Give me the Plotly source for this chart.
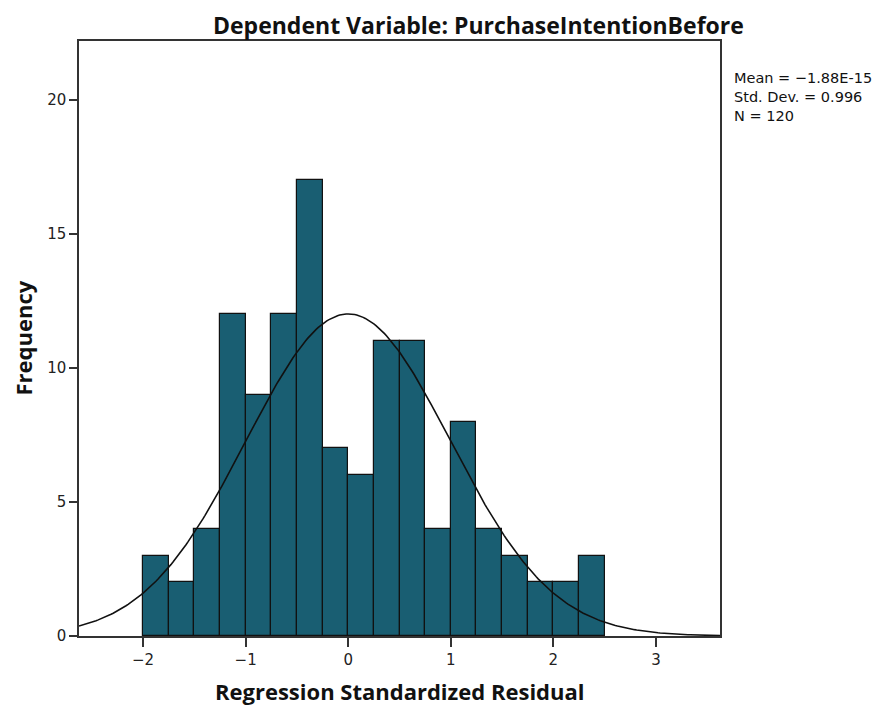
import math
import plotly.graph_objects as go

bin_starts = [-2.0, -1.75, -1.5, -1.25, -1.0, -0.75, -0.5, -0.25, 0.0, 0.25, 0.5, 0.75, 1.0, 1.25, 1.5, 1.75, 2.0, 2.25]
counts = [3, 2, 4, 12, 9, 12, 17, 7, 6, 11, 11, 4, 8, 4, 3, 2, 2, 3]
bin_width = 0.25
mean_val = -1.88e-15
sd_val = 0.996
n_val = 120
x_ticks = [-2, -1, 0, 1, 2, 3]
x_tick_text = ["\u22122", "\u22121", "0", "1", "2", "3"]
y_ticks = [0, 5, 10, 15, 20]
stat_lines = ["Mean = \u22121.88E-15", f"Std. Dev. = {sd_val}", f"N = {n_val}"]

x_min, x_max = -2.625, 3.625
centers = [b + bin_width / 2 for b in bin_starts]

steps = 300
cx = [x_min + (x_max - x_min) * i / steps for i in range(steps + 1)]
cy = [n_val * bin_width / (sd_val * math.sqrt(2 * math.pi)) * math.exp(-0.5 * ((v - mean_val) / sd_val) ** 2) for v in cx]

fig = go.Figure()
fig.add_trace(go.Bar(x=centers, y=counts, width=bin_width,
                     marker=dict(color="#195e72", line=dict(color="#111111", width=1.2)),
                     showlegend=False, hoverinfo="x+y"))
fig.add_trace(go.Scatter(x=cx, y=cy, mode="lines", line=dict(color="#111111", width=1.6),
                         showlegend=False, hoverinfo="skip"))

tick_font = "DejaVu Sans, sans-serif"
title_font = "'Open Sans', Lato, sans-serif"
fig.update_layout(
    width=879, height=701,
    margin=dict(l=71, r=167, t=33, b=73),
    paper_bgcolor="white", plot_bgcolor="white",
    bargap=0,
    xaxis=dict(range=[x_min, x_max], tickvals=x_ticks, ticktext=x_tick_text,
               ticks="outside", ticklen=9, tickwidth=1.5, tickcolor="#333333",
               showline=True, linecolor="#333333", linewidth=1.5, mirror=True,
               showgrid=False, zeroline=False, automargin=False,
               tickfont=dict(family=tick_font, size=15, color="#222222")),
    yaxis=dict(range=[0, 22.2], tickvals=y_ticks,
               ticks="outside", ticklen=8, tickwidth=1.5, tickcolor="#333333",
               showline=True, linecolor="#333333", linewidth=1.5, mirror=True,
               showgrid=False, zeroline=False, automargin=False,
               tickfont=dict(family=tick_font, size=15, color="#222222")),
)

# chart title
fig.add_annotation(xref="paper", yref="paper", x=0.6225, y=1.0, yshift=16,
                   xanchor="center", yanchor="middle", showarrow=False,
                   text="<b>Dependent Variable: PurchaseIntentionBefore</b>",
                   font=dict(family=title_font, size=23, color="#111111"))
# axis titles
fig.add_annotation(xref="paper", yref="paper", x=0.5, y=0.0, yshift=-55,
                   xanchor="center", yanchor="middle", showarrow=False,
                   text="<b>Regression Standardized Residual</b>",
                   font=dict(family=title_font, size=22, color="#111111"))
fig.add_annotation(xref="paper", yref="paper", x=0.0, y=0.5, xshift=-57,
                   xanchor="center", yanchor="middle", showarrow=False, textangle=-90,
                   text="<b>Frequency</b>",
                   font=dict(family=title_font, size=22, color="#111111"))
# statistics box
fig.add_annotation(xref="paper", yref="paper", x=1.0, y=1.0, xshift=12, yshift=-56,
                   xanchor="left", yanchor="middle", align="left", showarrow=False,
                   text="<br>".join(stat_lines),
                   font=dict(family=tick_font, size=14.5, color="#111111"))

fig.write_html("out.html")
